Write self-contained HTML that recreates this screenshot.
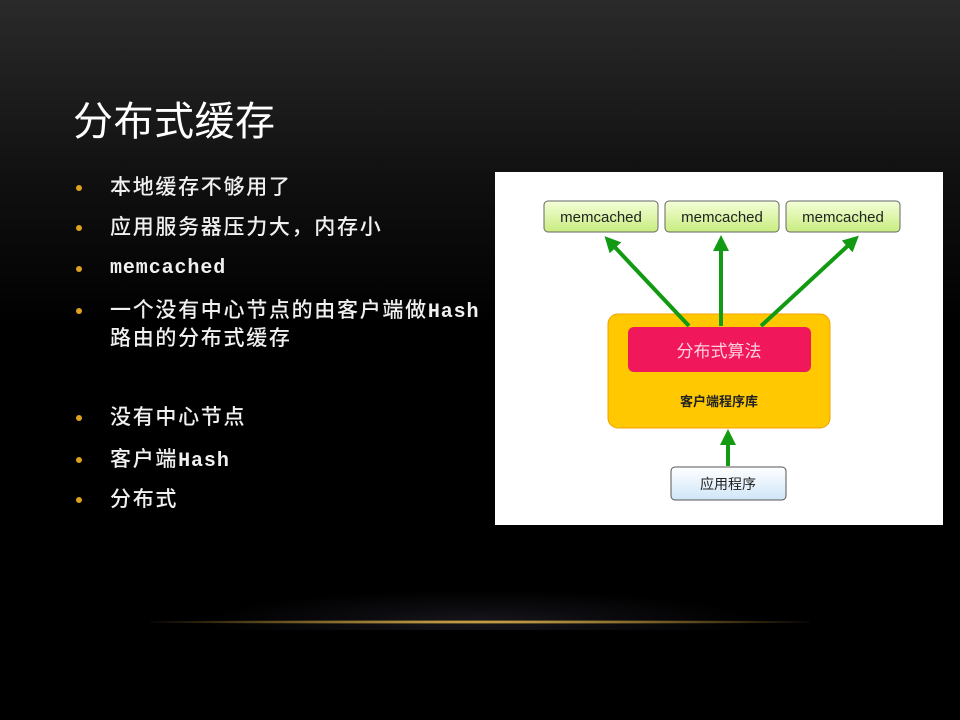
<!DOCTYPE html>
<html><head><meta charset="utf-8"><style>
body{margin:0;width:960px;height:720px;overflow:hidden;background:#000;font-family:"Liberation Sans","Noto Sans CJK SC",sans-serif;}
#bg{position:absolute;left:0;top:0;width:960px;height:720px;background:linear-gradient(#2a2a2a 0%,#101010 25%,#000 45%,#000 100%);}
.t{position:absolute;color:#fff;white-space:nowrap;line-height:26px}
.b{position:absolute;width:6px;height:6px;border-radius:3px;background:#e0a020;left:76px}
.li{font-size:21px;color:#f0f0f0;letter-spacing:1.7px;font-weight:500}
.m{font-family:'Liberation Mono',monospace;font-weight:bold;letter-spacing:0.9px;font-size:20px}
</style></head><body>
<div id="bg"></div>
<div style="position:absolute;left:200px;top:590px;width:560px;height:40px;background:radial-gradient(ellipse at 50% 80%,rgba(60,60,80,0.35),rgba(0,0,0,0) 70%)"></div>
<div style="position:absolute;left:150px;top:620px;width:660px;height:4px;background:radial-gradient(ellipse at center,rgba(240,200,90,1) 0%,rgba(180,140,50,0.6) 45%,rgba(0,0,0,0) 75%)"></div>
<div class="t" style="left:73px;top:99px;font-size:40px;letter-spacing:0.5px;line-height:46px">分布式缓存</div>
<div class="b" style="top:185px"></div><div class="t li" style="left:110px;top:175px">本地缓存不够用了</div>
<div class="b" style="top:225px"></div><div class="t li" style="left:110px;top:215px">应用服务器压力大，内存小</div>
<div class="b" style="top:266px"></div><div class="t li m" style="left:110px;top:256px">memcached</div>
<div class="b" style="top:308px"></div><div class="t li" style="left:110px;top:298px">一个没有中心节点的由客户端做<span class="m">Hash</span></div>
<div class="t li" style="left:110px;top:326px">路由的分布式缓存</div>
<div class="b" style="top:415px"></div><div class="t li" style="left:110px;top:405px">没有中心节点</div>
<div class="b" style="top:457px"></div><div class="t li" style="left:110px;top:447px">客户端<span class="m">Hash</span></div>
<div class="b" style="top:497px"></div><div class="t li" style="left:110px;top:487px">分布式</div>
<svg style="position:absolute;left:0;top:0" width="960" height="720">
<defs>
<linearGradient id="g1" x1="0" y1="0" x2="0" y2="1"><stop offset="0" stop-color="#f4ffd8"/><stop offset="1" stop-color="#c8ec80"/></linearGradient>
<linearGradient id="g2" x1="0" y1="0" x2="0" y2="1"><stop offset="0" stop-color="#ffffff"/><stop offset="1" stop-color="#cfe6f8"/></linearGradient>
<marker id="ah" markerWidth="4" markerHeight="4" refX="2" refY="2" orient="auto" markerUnits="strokeWidth"><path d="M0,0 L4,2 L0,4z" fill="#129a12"/></marker>
</defs>
<rect x="495" y="172" width="448" height="353" fill="#fff"/>
<g font-size="15" text-anchor="middle" fill="#222">
<rect x="544" y="201" width="114" height="31" rx="4" fill="url(#g1)" stroke="#666"/><text x="601" y="222">memcached</text>
<rect x="665" y="201" width="114" height="31" rx="4" fill="url(#g1)" stroke="#666"/><text x="722" y="222">memcached</text>
<rect x="786" y="201" width="114" height="31" rx="4" fill="url(#g1)" stroke="#666"/><text x="843" y="222">memcached</text>
</g>
<rect x="608" y="314" width="222" height="114" rx="10" fill="#ffc800" stroke="#f0a000"/>
<rect x="628" y="327" width="183" height="45" rx="6" fill="#f0185a"/>
<text x="719" y="357" font-size="17" fill="#ffd0e0" text-anchor="middle">分布式算法</text>
<text x="719" y="406" font-size="13" fill="#222" text-anchor="middle" font-weight="bold">客户端程序库</text>
<rect x="671" y="467" width="115" height="33" rx="4" fill="url(#g2)" stroke="#555"/>
<text x="728" y="489" font-size="14" fill="#222" text-anchor="middle">应用程序</text>
<g stroke="#129a12" stroke-width="4" marker-end="url(#ah)">
<line x1="689" y1="326" x2="610" y2="242"/>
<line x1="721" y1="326" x2="721" y2="243"/>
<line x1="761" y1="326" x2="853" y2="241"/>
<line x1="728" y1="466" x2="728" y2="437"/>
</g>
</svg>
</body></html>
